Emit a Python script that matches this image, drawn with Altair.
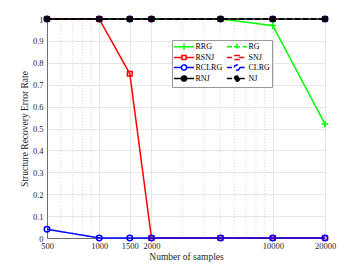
import altair as alt
import pandas as pd

samples = [500, 1000, 1500, 2000, 5000, 10000, 20000]
series_names = ["RRG", "RG", "RSNJ", "SNJ", "RCLRG", "CLRG", "RNJ", "NJ"]
rrg = [1, 1, 1, 1, 1, 0.97, 0.52]
rg = [1, 1, 1, 1, 1, 1, 1]
rsnj = [1, 1, 0.75, 0, 0, 0, 0]
snj = [1, 1, 1, 1, 1, 1, 1]
rclrg = [0.04, 0, 0, 0, 0, 0, 0]
clrg = [1, 1, 1, 1, 1, 1, 1]
rnj = [1, 1, 1, 1, 1, 1, 1]
nj = [1, 1, 1, 1, 1, 1, 1]
values = [rrg, rg, rsnj, snj, rclrg, clrg, rnj, nj]

x_ticks = [500, 1000, 1500, 2000, 10000, 20000]
x_minor = [600, 700, 800, 900, 3000, 4000, 5000, 6000, 7000, 8000, 9000]
y_ticks = [0, 0.1, 0.2, 0.3, 0.4, 0.5, 0.6, 0.7, 0.8, 0.9, 1]

colors = ["#00ff00", "#00ff00", "#ff0000", "#ff0000", "#0000ff", "#0000ff", "#000000", "#000000"]
dashes = [[1, 0], [5, 3], [1, 0], [5, 3], [1, 0], [5, 3], [1, 0], [5, 3]]
PLUS = "M-1,0H1M0,-1V1"
marker_shapes = [PLUS, PLUS, "square", "square", "circle", "circle", "circle", "circle"]
marker_sizes = [45, 45, 22, 22, 30, 30, 22, 22]
marker_fill = [None, None, None, None, None, None, "#000000", "#000000"]

# legend symbols (line + marker), unit box scaled by sqrt(symbolSize)/2
leg_plus = "M-2.86,0H2.86M0,-0.9V0.9M-0.9,0H0.9"
leg_sq = "M-2.86,0H-0.6M0.6,0H2.86M-0.6,-0.6H0.6V0.6H-0.6Z"
leg_ci = "M-2.86,0H-0.75M0.75,0H2.86M0.75,0A0.75,0.75 0 1,1 -0.75,0A0.75,0.75 0 1,1 0.75,0Z"
leg_shapes = [leg_plus, leg_plus, leg_sq, leg_sq, leg_ci, leg_ci, leg_ci, leg_ci]
leg_fills = ["#ffffff", "#ffffff", "#ffffff", "#ffffff", "#ffffff", "#ffffff", "#000000", "#000000"]

rows = []
for name, vals in zip(series_names, values):
    for s, v in zip(samples, vals):
        rows.append({"series": name, "samples": s, "rate": v})
df = pd.DataFrame(rows)

xscale = alt.Scale(type="log", domain=[500, 20000], nice=False)
yscale = alt.Scale(domain=[0, 1], nice=False)

xenc = alt.X("samples:Q", scale=xscale,
             axis=alt.Axis(values=x_ticks, title="Number of samples", format="d",
                           grid=True, gridColor="#e6e6e6", ticks=False,
                           labelPadding=3, titlePadding=2, labelFlush=False,
                           labelOverlap=False))
yenc = alt.Y("rate:Q", scale=yscale,
             axis=alt.Axis(values=y_ticks, title="Structure Recovery Error Rate", format="~g",
                           grid=True, gridColor="#e6e6e6", ticks=False,
                           labelPadding=4, titlePadding=3))

minor = alt.Chart(pd.DataFrame({"m": x_minor})).mark_rule(
    color="#d6d6d6", strokeDash=[1, 2], strokeWidth=1
).encode(x=alt.X("m:Q", scale=xscale))

layers = [minor]
for i, name in enumerate(series_names):
    base = alt.Chart(df).transform_filter(alt.datum.series == name)
    line = base.mark_line(color=colors[i], strokeWidth=1.5, strokeDash=dashes[i]).encode(
        x=xenc, y=yenc)
    pkw = dict(shape=marker_shapes[i], size=marker_sizes[i], color=colors[i],
               strokeWidth=1.5, opacity=1)
    if marker_fill[i]:
        pkw.update(filled=True, fill=marker_fill[i], stroke=colors[i])
    else:
        pkw.update(filled=False)
    pts = base.mark_point(**pkw).encode(x=xenc, y=yenc)
    layers += [line, pts]

legend_layer = alt.Chart(df).transform_filter("false").mark_point(strokeWidth=1.5, filled=False).encode(
    x=xenc, y=yenc,
    color=alt.Color("series:N", scale=alt.Scale(domain=series_names, range=colors),
                    legend=alt.Legend(title=None, orient="none", legendX=125, legendY=21,
                                      columns=2, direction="horizontal")),
    shape=alt.Shape("series:N", scale=alt.Scale(domain=series_names, range=leg_shapes)),
    strokeDash=alt.StrokeDash("series:N", scale=alt.Scale(domain=series_names, range=dashes)),
    fill=alt.Fill("series:N", scale=alt.Scale(domain=series_names, range=leg_fills)),
)
layers.append(legend_layer)

chart = alt.layer(*layers).properties(
    width=278, height=219,
    autosize=alt.AutoSizeParams(type="none"),
    padding={"left": 39, "top": 11, "right": 27, "bottom": 24},
).configure_view(stroke="#707070", strokeWidth=1).configure_axis(
    labelFont="Liberation Serif", titleFont="Liberation Serif",
    labelFontSize=8.5, titleFontSize=9.5, labelColor="#262626", titleColor="#262626",
    titleFontWeight="normal", domainColor="#707070",
).configure_legend(
    labelFont="Liberation Serif", labelFontSize=8, labelColor="#000000",
    symbolSize=49, symbolStrokeWidth=1.5, symbolOffset=5.5, labelOffset=7,
    strokeColor="#999999", fillColor="#ffffff", padding=2,
    rowPadding=-5, columnPadding=0, symbolOpacity=1, gridAlign="each",
)

chart.save("out.html", embed_options={"renderer": "svg", "actions": False})
